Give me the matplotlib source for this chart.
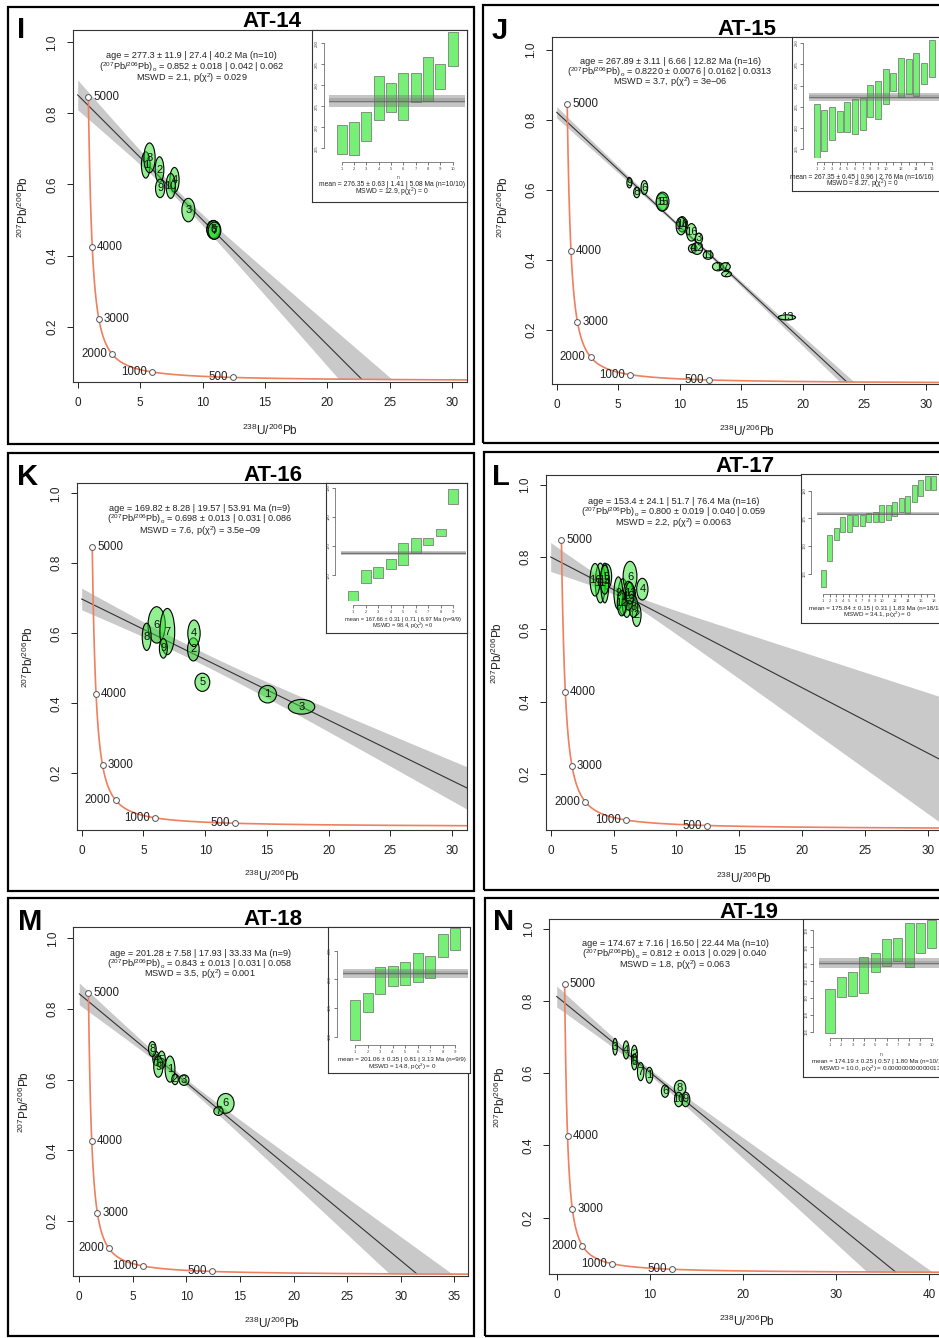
import numpy as np
import matplotlib
matplotlib.use("Agg")
import matplotlib.pyplot as plt
from matplotlib.patches import Ellipse, Rectangle

plt.rcParams.update({
    "font.family": ["Liberation Sans", "DejaVu Sans"],
    "mathtext.fontset": "custom",
    "mathtext.rm": "Liberation Sans",
    "mathtext.it": "Liberation Sans:italic",
    "mathtext.bf": "Liberation Sans:bold",
    "mathtext.default": "regular",
})

W, H = 939, 1338

# ---------------- sample summary values ----------------
SAMPLES = ["AT-14", "AT-15", "AT-16", "AT-17", "AT-18", "AT-19"]
LETTERS = ["I", "J", "K", "L", "M", "N"]
N_GRAINS = [10, 16, 9, 16, 9, 10]

# lower-intercept age: value, sigma, ci, ci incl. overdispersion (Ma)
AGE = [(277.3, 11.9, 27.4, 40.2), (267.89, 3.11, 6.66, 12.82),
       (169.82, 8.28, 19.57, 53.91), (153.4, 24.1, 51.7, 76.4),
       (201.28, 7.58, 17.93, 33.33), (174.67, 7.16, 16.50, 22.44)]
AGE_DIGITS = [1, 2, 2, 1, 2, 2]

# common-Pb intercept (207Pb/206Pb)0
PB0 = [(0.852, 0.018, 0.042, 0.062), (0.8220, 0.0076, 0.0162, 0.0313),
       (0.698, 0.013, 0.031, 0.086), (0.800, 0.019, 0.040, 0.059),
       (0.843, 0.013, 0.031, 0.058), (0.812, 0.013, 0.029, 0.040)]
PB0_DIGITS = [3, 4, 3, 3, 3, 3]

MSWD = ["2.1", "3.7", "7.6", "2.2", "3.5", "1.8"]
P_CHI2 = ["0.029", "3e\u221206", "3.5e\u221209", "0.0063", "0.001", "0.063"]

# weighted means of single-grain dates
WMEAN = [(276.35, 0.63, 1.41, 5.08), (267.35, 0.45, 0.96, 2.76),
         (167.66, 0.31, 0.71, 6.97), (175.84, 0.15, 0.31, 1.83),
         (201.06, 0.35, 0.81, 3.13), (174.19, 0.25, 0.57, 1.80)]
WMEAN_N = ["10/10", "16/16", "9/9", "18/18", "9/9", "10/10"]
WMEAN_MSWD = ["12.9", "8.27", "98.4", "34.1", "14.8", "10.0"]
WMEAN_P = ["0", "0", "0", "0", "0", "0.000000000000013"]

# ---------------- single-grain dates (ranked) ----------------
AT14_DATES = [267.1, 267.4, 270.2, 277.0, 277.1, 277.3, 279.5, 281.5, 282.1, 288.6]
AT14_DATE_ERR = [3.4, 3.9, 3.5, 5.2, 3.45, 5.6, 3.45, 5.2, 3.0, 4.05]
AT15_DATES = [259.3, 259.4, 261.1, 261.5, 262.5, 262.6, 263.3, 266.3, 266.6, 269.7,
              270.9, 271.8, 272.1, 272.6, 272.8, 276.4]
AT15_DATE_ERR = [6.3, 4.8, 3.9, 2.5, 3.5, 4.1, 3.8, 3.8, 4.5, 4.1,
                 2.1, 4.6, 4.2, 5.0, 2.5, 4.3]
AT16_DATES = [152.9, 159.6, 161.0, 163.8, 167.2, 170.2, 171.5, 174.6, 186.9]
AT16_DATE_ERR = [1.65, 2.2, 1.9, 1.65, 3.7, 2.7, 1.3, 1.15, 2.6]
AT17_DATES = [164.2, 169.7, 172.15, 173.95, 174.1, 174.6, 174.6, 175.1, 175.3,
              175.9, 176.05, 176.75, 177.4, 177.5, 179.5, 180.45, 181.4, 181.4]
AT17_DATE_ERR = [1.56, 2.3, 1.05, 1.35, 1.5, 1.0, 1.0, 0.8, 0.9,
                 1.5, 1.35, 1.25, 1.2, 1.5, 1.5, 1.45, 1.25, 1.25]
AT18_DATES = [192.9, 195.96, 199.8, 200.6, 201.05, 202.1, 202.15, 205.9, 207.0]
AT18_DATE_ERR = [3.5, 1.6, 2.3, 1.8, 2.0, 2.5, 1.98, 1.98, 1.9]
AT19_DATES = [168.45, 171.3, 171.66, 172.7, 174.26, 175.38, 175.73, 176.25, 177.1, 177.55]
AT19_DATE_ERR = [2.6, 1.22, 1.4, 2.13, 1.12, 1.57, 1.34, 2.6, 1.73, 1.67]

# ---------------- Tera-Wasserburg analyses ----------------
# 238U/206Pb, 207Pb/206Pb, ellipse semi-axes (x, y)
AT14_U8PB6 = [5.45, 6.55, 8.86, 7.75, 10.85, 10.9, 10.95, 5.75, 6.6, 7.45]
AT14_PB76 = [0.655, 0.642, 0.528, 0.613, 0.474, 0.472, 0.470, 0.675, 0.589, 0.596]
AT14_SX = [0.35, 0.35, 0.52, 0.37, 0.52, 0.55, 0.5, 0.45, 0.37, 0.37]
AT14_SY = [0.037, 0.036, 0.033, 0.035, 0.025, 0.026, 0.024, 0.042, 0.026, 0.035]

AT15_U8PB6 = [13.1, 13.8, 11.55, 11.05, 8.55, 7.12, 13.7, 6.5, 5.9, 10.2,
              12.3, 11.4, 18.7, 10.1, 8.6, 10.95]
AT15_PB76 = [0.381, 0.360, 0.462, 0.433, 0.565, 0.607, 0.381, 0.593, 0.621, 0.502,
             0.414, 0.433, 0.236, 0.497, 0.567, 0.479]
AT15_SX = [0.45, 0.4, 0.3, 0.35, 0.45, 0.27, 0.4, 0.25, 0.2, 0.37,
           0.4, 0.45, 0.7, 0.4, 0.52, 0.4]
AT15_SY = [0.012, 0.008, 0.015, 0.012, 0.025, 0.02, 0.011, 0.015, 0.015, 0.022,
           0.012, 0.017, 0.0075, 0.025, 0.027, 0.025]

AT16_U8PB6 = [15.05, 9.04, 17.8, 9.09, 9.77, 6.07, 6.93, 5.26, 6.61]
AT16_PB76 = [0.426, 0.554, 0.390, 0.600, 0.460, 0.624, 0.605, 0.590, 0.557]
AT16_SX = [0.72, 0.47, 1.07, 0.5, 0.6, 0.7, 0.6, 0.36, 0.32]
AT16_SY = [0.025, 0.033, 0.021, 0.038, 0.026, 0.052, 0.066, 0.039, 0.028]

AT17_U8PB6 = [5.75, 6.84, 6.45, 7.29, 4.45, 6.31, 6.05, 6.58, 5.38, 6.18,
              3.95, 5.65, 6.3, 4.3, 4.3, 3.53]
AT17_PB76 = [0.690, 0.640, 0.685, 0.711, 0.746, 0.746, 0.668, 0.663, 0.700, 0.693,
             0.728, 0.672, 0.700, 0.728, 0.737, 0.737]
AT17_SX = [0.4, 0.35, 0.32, 0.45, 0.4, 0.55, 0.35, 0.35, 0.35, 0.4,
           0.4, 0.35, 0.35, 0.32, 0.35, 0.4]
AT17_SY = [0.05, 0.032, 0.035, 0.03, 0.035, 0.042, 0.035, 0.03, 0.045, 0.04,
           0.055, 0.035, 0.03, 0.055, 0.04, 0.045]

AT18_U8PB6 = [8.47, 8.94, 9.78, 7.16, 7.69, 13.67, 12.99, 6.82, 7.38]
AT18_PB76 = [0.630, 0.601, 0.599, 0.660, 0.656, 0.533, 0.511, 0.687, 0.637]
AT18_SX = [0.46, 0.3, 0.46, 0.3, 0.35, 0.78, 0.43, 0.36, 0.43]
AT18_SY = [0.037, 0.015, 0.015, 0.02, 0.025, 0.028, 0.012, 0.021, 0.03]

AT19_U8PB6 = [9.95, 8.34, 6.27, 7.45, 8.34, 11.64, 9.02, 13.25, 13.85, 13.1]
AT19_PB76 = [0.594, 0.652, 0.673, 0.664, 0.631, 0.550, 0.604, 0.558, 0.527, 0.527]
AT19_SX = [0.37, 0.32, 0.25, 0.32, 0.3, 0.4, 0.35, 0.62, 0.45, 0.45]
AT19_SY = [0.022, 0.025, 0.023, 0.025, 0.022, 0.017, 0.025, 0.022, 0.02, 0.02]

CONCORDIA_AGES = [500, 1000, 2000, 3000, 4000, 5000]

# ---------------- Tera-Wasserburg concordia ----------------
LAMBDA238 = 1.55125e-4   # 1/Myr
LAMBDA235 = 9.8485e-4    # 1/Myr
U238_U235 = 137.818


def tw_x(t):
    return 1.0 / np.expm1(LAMBDA238 * t)


def tw_y(t):
    return np.expm1(LAMBDA235 * t) / np.expm1(LAMBDA238 * t) / U238_U235


T_GRID = np.geomspace(100.0, 5000.0, 3000)
CX = tw_x(T_GRID)[::-1]
CY = tw_y(T_GRID)[::-1]


def concordia_y(x):
    return np.where(x > 5, np.interp(x, CX, CY), -1.0)


def band_halfwidth(x, y0, dy0, t, dt, xc):
    xt = tw_x(t)
    m = (tw_y(t) - y0) / xt
    hwt = abs(m) * (tw_x(t - dt) - tw_x(t + dt)) / 2
    s2 = (hwt ** 2 - dy0 ** 2) / ((xt - xc) ** 2 - xc ** 2)
    h2 = dy0 ** 2 - s2 * xc ** 2
    hmin2 = (0.3 * dy0) ** 2
    if s2 <= 0 or h2 < hmin2:
        h2 = hmin2
        s2 = (dy0 ** 2 - h2) / xc ** 2
    return np.sqrt(h2 + s2 * (x - xc) ** 2)


def fbox(l, t, r, b):
    return [l / W, 1 - b / H, (r - l) / W, (b - t) / H]


def fxy(x, y):
    return x / W, 1 - y / H


LAYOUT = [
    dict(frame=(8, 7, 474, 444), axes=(73, 30, 467, 382), xlim=(-0.376, 31.17),
         ylim=(0.0444, 1.0346), xticks=list(range(0, 31, 5)),
         inset=(312, 30, 467, 202), region=(329.4, 30, 465, 158), iylim=(262.7, 293.17),
         iyticks=[265, 270, 275, 280, 285, 290], ixlabels=list(range(1, 11)),
         title=(271.7, 26.7), letter=(16.7, 38.3), notes=(191.7, [55.7, 66.7, 78.3]),
         mean=(392, [185, 192.7]), mfs=4.9, nlab=(397.7, 177.7), xlab=(270, 430),
         ylab=(23.3, 206.7)),
    dict(frame=(483, 5, 945, 443), axes=(551.7, 37.3, 943, 384.3), xlim=(-0.406, 31.38),
         ylim=(0.0449, 1.0363), xticks=list(range(0, 31, 5)),
         inset=(791.5, 37.3, 945, 191), region=(809, 37.3, 939.4, 158), iylim=(252.9, 281.37),
         iyticks=[255, 260, 265, 270, 275, 280], ixlabels=list(range(1, 11)) + [12, 14, 16],
         title=(746.7, 35), letter=(491.7, 39.3), notes=(670, [61.7, 71.7, 82.3]),
         mean=(862, [177.5, 184]), mfs=4.8, nlab=None, xlab=(746.7, 431.7),
         ylab=(503.3, 206.7)),
    dict(frame=(8, 453, 474, 891), axes=(76.7, 483.3, 466.7, 830), xlim=(-0.405, 31.17),
         ylim=(0.038, 1.0286), xticks=list(range(0, 31, 5)),
         inset=(325.7, 483.3, 466.7, 632.7), region=(340.8, 483.3, 465.8, 601),
         iylim=(151.16, 191.47), iyticks=[160, 170, 180, 190], ixlabels=list(range(1, 10)),
         title=(273.3, 481), letter=(16.7, 485), notes=(200, [508.3, 519.3, 531]),
         mean=(403, [619, 626]), mfs=4.1, nlab=None, xlab=(271.7, 876.7),
         ylab=(28.3, 656.7)),
    dict(frame=(484, 452, 945, 890), axes=(545.7, 475, 943, 830), xlim=(-0.398, 31.21),
         ylim=(0.0448, 1.0268), xticks=list(range(0, 31, 5)),
         inset=(801, 474.5, 945, 623.3), region=(816.8, 474.5, 940.3, 590),
         iylim=(162.1, 182.88), iyticks=[165, 170, 175, 180],
         ixlabels=list(range(1, 11)) + [12, 14, 16, 18],
         title=(745, 471.7), letter=(491.7, 485), notes=(673.3, [501, 511.7, 522.7]),
         mean=(877, [608, 615]), mfs=4.5, nlab=None, xlab=(744.3, 878.3),
         ylab=(497.3, 653.3)),
    dict(frame=(8, 898, 474, 1336), axes=(73.3, 926.7, 468.3, 1276), xlim=(-0.56, 36.32),
         ylim=(0.0444, 1.0331), xticks=list(range(0, 36, 5)),
         inset=(327.7, 926.7, 470, 1073.3), region=(342.5, 926.7, 467.5, 1041),
         iylim=(189.23, 209.18), iyticks=[190, 195, 200, 205], ixlabels=list(range(1, 10)),
         title=(273.3, 925), letter=(18.3, 930), notes=(200, [953.3, 964, 974.3]),
         mean=(402, [1060, 1066.5]), mfs=4.5, nlab=None, xlab=(271.7, 1323.3),
         ylab=(24, 1101.7)),
    dict(frame=(485, 898, 945, 1336), axes=(549.3, 919, 943, 1274.3), xlim=(-0.795, 41.49),
         ylim=(0.0434, 1.0263), xticks=list(range(0, 41, 10)),
         inset=(802.7, 919, 945, 1076.7), region=(818.7, 919, 943, 1034),
         iylim=(165.75, 179.36), iyticks=[166, 168, 170, 172, 174, 176, 178],
         ixlabels=list(range(1, 11)),
         title=(749.3, 917.7), letter=(493.3, 930), notes=(675, [944, 954.3, 965.3]),
         mean=(880, [1062, 1068.5]), mfs=4.5, nlab=(881, 1054), xlab=(746.7, 1321.7),
         ylab=(500, 1096.7)),
]

ANALYSES = [
    (AT14_U8PB6, AT14_PB76, AT14_SX, AT14_SY),
    (AT15_U8PB6, AT15_PB76, AT15_SX, AT15_SY),
    (AT16_U8PB6, AT16_PB76, AT16_SX, AT16_SY),
    (AT17_U8PB6, AT17_PB76, AT17_SX, AT17_SY),
    (AT18_U8PB6, AT18_PB76, AT18_SX, AT18_SY),
    (AT19_U8PB6, AT19_PB76, AT19_SX, AT19_SY),
]
DATES = [(AT14_DATES, AT14_DATE_ERR), (AT15_DATES, AT15_DATE_ERR),
         (AT16_DATES, AT16_DATE_ERR), (AT17_DATES, AT17_DATE_ERR),
         (AT18_DATES, AT18_DATE_ERR), (AT19_DATES, AT19_DATE_ERR)]

CONC_COLOR = "#EE7F5F"
ELL_FACE = (0.15, 0.88, 0.15, 0.5)
BAR_FACE = "#78F078"

fig = plt.figure(figsize=(W / 100, H / 100), dpi=100)
fig.patch.set_facecolor("white")

for k, lay in enumerate(LAYOUT):
    ux, uy, sx, sy = [np.asarray(v, float) for v in ANALYSES[k]]
    age, age_s, age_ci, age_od = AGE[k]
    y0, y0_s, y0_ci, y0_od = PB0[k]

    ax = fig.add_axes(fbox(*lay["axes"]))
    ax.set_xlim(*lay["xlim"])
    ax.set_ylim(*lay["ylim"])

    # discordia line and its confidence envelope
    xt = tw_x(age)
    slope = (tw_y(age) - y0) / xt
    xg = np.linspace(0, lay["xlim"][1] + 1, 1500)
    yl = y0 + slope * xg
    hw = band_halfwidth(xg, y0, y0_ci, age, age_ci, ux.mean())
    yc = concordia_y(xg)
    upper = yl + hw
    lower = np.maximum(yl - hw, yc)
    ax.fill_between(xg, lower, upper, where=upper > yc, color="#C9C9C9", lw=0, zorder=1)
    xs = xg[xg <= xt]
    ax.plot(xs, y0 + slope * xs, color="#333333", lw=0.8, zorder=2)

    # concordia curve with age ticks
    ax.plot(tw_x(T_GRID), tw_y(T_GRID), color=CONC_COLOR, lw=1.2, zorder=3)
    for a in CONCORDIA_AGES:
        px, py = tw_x(a), tw_y(a)
        ax.plot(px, py, "o", ms=4.2, mfc="white", mec="#555555", mew=0.7, zorder=6)
        right = a >= 3000
        ax.annotate(str(a), (px, py), xytext=(3.5 if right else -3.5, 0),
                    textcoords="offset points", ha="left" if right else "right",
                    va="center", fontsize=8.3, color="#222222", zorder=6)

    # error ellipses
    for i in range(len(ux)):
        ax.add_patch(Ellipse((ux[i], uy[i]), 2 * sx[i], 2 * sy[i], fc=ELL_FACE,
                             ec="black", lw=0.8, zorder=4))
        ax.text(ux[i], uy[i], str(i + 1), ha="center", va="center", fontsize=8,
                color="#111111", zorder=5)

    ax.set_xticks(lay["xticks"])
    ax.set_yticks([0.2, 0.4, 0.6, 0.8, 1.0])
    ax.set_yticklabels(["0.2", "0.4", "0.6", "0.8", "1.0"])
    ax.tick_params(direction="out", length=4.5, width=0.7, labelsize=8.5, pad=6,
                   colors="#222222")
    ax.tick_params(axis="y", labelrotation=90)
    for lbl in ax.get_yticklabels():
        lbl.set_va("center")
    for sp in ax.spines.values():
        sp.set_linewidth(0.8)
        sp.set_color("#333333")

    # axis titles, panel letter and sample name
    fig.text(*fxy(*lay["xlab"]), r"$^{238}$U/$^{206}$Pb", ha="center", va="center",
             fontsize=8.5, color="#222222")
    fig.text(*fxy(*lay["ylab"]), r"$^{207}$Pb/$^{206}$Pb", ha="center", va="center",
             rotation=90, fontsize=8.5, color="#222222")
    fig.text(*fxy(*lay["title"]), SAMPLES[k], ha="center", va="baseline",
             fontsize=16, fontweight="bold")
    fig.text(*fxy(*lay["letter"]), LETTERS[k], ha="left", va="baseline",
             fontsize=21, fontweight="bold")

    # regression summary
    ad, pd_ = AGE_DIGITS[k], PB0_DIGITS[k]
    lines = [
        f"age = {age:.{ad}f} \u00b1 {age_s:.{ad}f} | {age_ci:.{ad}f} | {age_od:.{ad}f} Ma (n={N_GRAINS[k]})",
        rf"($^{{207}}$Pb/$^{{206}}$Pb)$_o$ = {y0:.{pd_}f} ± {y0_s:.{pd_}f} | {y0_ci:.{pd_}f} | {y0_od:.{pd_}f}",
        f"MSWD = {MSWD[k]}, p(\u03c7$^2$) = {P_CHI2[k]}",
    ]
    nx, nys = lay["notes"]
    for line, yy in zip(lines, nys):
        fig.text(*fxy(nx, yy), line, ha="center", va="center", fontsize=6.6,
                 color="#222222")

    # weighted-mean inset
    fr = fig.add_axes(fbox(*lay["inset"]))
    fr.set_xticks([])
    fr.set_yticks([])
    fr.set_facecolor("white")
    for sp in fr.spines.values():
        sp.set_linewidth(0.8)
        sp.set_color("#333333")

    dates, derr = [np.asarray(v, float) for v in DATES[k]]
    n = len(dates)
    ia = fig.add_axes(fbox(*lay["region"]))
    ia.patch.set_alpha(0)
    ia.set_xlim(0, n + 1)
    ia.set_ylim(*lay["iylim"])
    idx = np.arange(1, n + 1)
    ia.bar(idx, 2 * derr, bottom=dates - derr, width=0.8, color=BAR_FACE,
           edgecolor="#6a6a6a", lw=0.5, zorder=2)
    wm, wm_s, wm_ci, wm_od = WMEAN[k]
    ia.axhspan(wm - wm_ci, wm + wm_ci, color="#707070", alpha=0.4, lw=0, zorder=3)
    ia.axhspan(wm - wm_s, wm + wm_s, color="#707070", alpha=0.3, lw=0, zorder=3)
    ia.axhline(wm, color="#606060", lw=0.5, zorder=3)
    for s in ("top", "right"):
        ia.spines[s].set_visible(False)
    ia.spines["left"].set_position(("outward", 4))
    ia.spines["bottom"].set_position(("outward", 3))
    ia.spines["left"].set_bounds(lay["iyticks"][0], lay["iyticks"][-1])
    ia.spines["bottom"].set_bounds(1, n)
    for s in ("left", "bottom"):
        ia.spines[s].set_linewidth(0.5)
        ia.spines[s].set_color("#555555")
    ia.set_yticks(lay["iyticks"])
    ia.set_yticklabels([str(v) for v in lay["iyticks"]])
    ia.set_xticks(idx)
    ia.set_xticklabels([str(i) if i in lay["ixlabels"] else "" for i in idx])
    ia.tick_params(length=2, width=0.5, labelsize=3, pad=1.5, colors="#444444")
    ia.tick_params(axis="y", labelrotation=90)
    for lbl in ia.get_yticklabels():
        lbl.set_va("center")

    mx, mys = lay["mean"]
    fig.text(*fxy(mx, mys[0]),
             f"mean = {wm:.2f} \u00b1 {wm_s:.2f} | {wm_ci:.2f} | {wm_od:.2f} Ma (n={WMEAN_N[k]})",
             ha="center", va="center", fontsize=lay["mfs"], color="#222222")
    fig.text(*fxy(mx, mys[1]), f"MSWD = {WMEAN_MSWD[k]}, p(\u03c7$^2$) = {WMEAN_P[k]}",
             ha="center", va="center", fontsize=lay["mfs"], color="#222222")
    if lay["nlab"] is not None:
        fig.text(*fxy(*lay["nlab"]), "n", ha="center", va="center", fontsize=3.5,
                 color="#444444")

    # panel frame
    l, t, r, b = lay["frame"]
    fig.add_artist(Rectangle((l / W, 1 - b / H), (r - l) / W, (b - t) / H,
                             transform=fig.transFigure, fill=False, ec="black", lw=1.6))

fig.savefig("out.png", dpi=100, facecolor="white")
